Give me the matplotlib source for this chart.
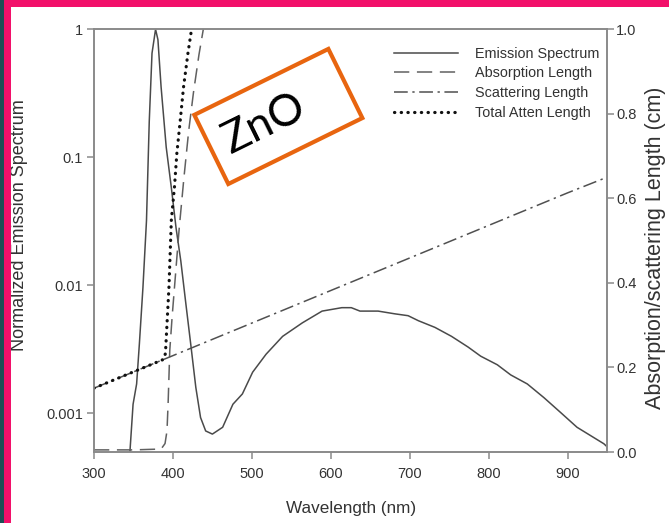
#!/usr/bin/env python3

import numpy as np
import matplotlib
matplotlib.use('Agg')
import matplotlib.pyplot as plt
from matplotlib import ticker
from matplotlib.patches import Rectangle

plt.rcParams['font.family'] = ['Liberation Sans', 'DejaVu Sans']

# emission spectrum, normalised to the peak (left axis, log)
em_nm = [345.5, 349.5, 354, 357.5, 362, 366.5, 370, 373.5, 378, 381, 385,
         391.5, 398, 404, 410, 416.5, 423, 429, 435, 441.5, 450, 463, 476,
         488, 501, 518, 539, 564, 589, 614, 626, 637, 660, 681, 698, 711,
         732, 753, 774, 790, 811, 828, 849, 870, 891, 912, 946, 950]
em_val = [0.0005, 0.00118, 0.0017, 0.0035, 0.0096, 0.032, 0.19, 0.65, 1.0,
          0.83, 0.355, 0.12, 0.058, 0.028, 0.0155, 0.0071, 0.0033, 0.0016,
          0.00093, 0.00073, 0.00069, 0.00078, 0.00118, 0.00142, 0.0021,
          0.0029, 0.0040, 0.0051, 0.0063, 0.0067, 0.0067, 0.0063, 0.0063,
          0.0060, 0.0058, 0.0053, 0.0047, 0.0040, 0.0033, 0.0028, 0.0024,
          0.0020, 0.0017, 0.00133, 0.00102, 0.00078, 0.00058, 0.00055]

# absorption length in cm (right axis)
abs_nm = [300, 350, 385, 390, 392.5, 394, 396, 399, 402, 408, 414, 420,
          426, 433, 438.5]
abs_val = [0.005, 0.005, 0.007, 0.02, 0.05, 0.12, 0.24, 0.32, 0.39, 0.53,
           0.65, 0.76, 0.85, 0.94, 1.0]

# scattering length in cm
sc_nm = [300, 400, 500, 600, 700, 800, 900, 950]
sc_val = [0.151, 0.228, 0.305, 0.382, 0.459, 0.536, 0.613, 0.650]

# total attenuation length in cm
tot_nm = [300, 340, 370, 388, 390.5, 395, 398, 402, 405, 409.3, 413.5,
          419, 423.6]
tot_val = [0.151, 0.182, 0.205, 0.219, 0.233, 0.391, 0.549, 0.628, 0.707,
           0.785, 0.864, 0.943, 1.0]

x_ticks = [300, 400, 500, 600, 700, 800, 900]
left_ticks = [0.001, 0.01, 0.1, 1]
left_labels = ['0.001', '0.01', '0.1', '1']
right_ticks = [0.0, 0.2, 0.4, 0.6, 0.8, 1.0]

W, H = 669, 523
fig = plt.figure(figsize=(W / 100.0, H / 100.0), dpi=100)
fig.patch.set_facecolor('white')

axl = fig.add_axes([94.0 / W, 1 - 452.0 / H, 513.0 / W, 422.7 / H])
axr = axl.twinx()

spine_c = '#8a8a8a'
text_c = '#333333'
tick_fs = 10.5

axl.plot(em_nm, em_val, color='#4a4a4a', lw=1.1, label='Emission Spectrum')
l2, = axr.plot(abs_nm, abs_val, color='#606060', lw=1.1,
               linestyle=(0, (10, 5)), label='Absorption Length')
l3, = axr.plot(sc_nm, sc_val, color='#505050', lw=1.1,
               linestyle=(0, (9, 3, 1.5, 3)), label='Scattering Length')
l4, = axr.plot(tot_nm, tot_val, color='#111111', lw=2.3,
               linestyle=(0, (0.1, 2.0)), dash_capstyle='round',
               label='Total Atten Length')

axl.set_yscale('log')
axl.set_ylim(0.0005, 1)
axl.set_xlim(300, 950)
axr.set_ylim(0, 1.0)

axl.set_xticks(x_ticks)
axl.set_yticks(left_ticks)
axl.yaxis.set_major_formatter(ticker.FixedFormatter(left_labels))
axl.yaxis.set_minor_locator(ticker.NullLocator())
axr.set_yticks(right_ticks)
axr.yaxis.set_major_formatter(ticker.FormatStrFormatter('%.1f'))

for a in (axl, axr):
    for s in a.spines.values():
        s.set_color(spine_c)
        s.set_linewidth(1.2)
    a.tick_params(direction='out', length=5, width=1.1, color=spine_c,
                  labelcolor=text_c, labelsize=tick_fs)
axl.tick_params(axis='x', pad=6)
axl.tick_params(axis='y', pad=3)
axr.tick_params(axis='y', pad=1.5)

fig.text(20.0 / W, 1 - 225.0 / H, 'Normalized Emission Spectrum',
         rotation=90, ha='center', va='center', fontsize=13, color=text_c)
fig.text(655.5 / W, 1 - 247.5 / H, 'Absorption/scattering Length (cm)',
         rotation=90, ha='center', va='center', fontsize=15.5, color=text_c)
fig.text(351.0 / W, 1 - 509.0 / H, 'Wavelength (nm)',
         ha='center', va='center', fontsize=12.3, color=text_c)

handles = [axl.get_lines()[0], l2, l3, l4]
leg = axr.legend(handles, [h.get_label() for h in handles],
                 loc='upper left', bbox_to_anchor=(0.585, 0.959),
                 frameon=False, fontsize=10.4, handlelength=4.4,
                 handletextpad=1.2, labelspacing=0.4, borderpad=0,
                 borderaxespad=0)
for t in leg.get_texts():
    t.set_color(text_c)

# ZnO tag
tag = Rectangle((2.283, 3.39), 1.494, 0.77, angle=26.2,
                transform=fig.dpi_scale_trans, facecolor='white',
                edgecolor='#e8650f', lw=3.0, zorder=10)
fig.patches.append(tag)
fig.text(2.64, (H - 124.0) / 100.0, 'ZnO', transform=fig.dpi_scale_trans,
         rotation=26.2, rotation_mode='anchor', ha='center', va='center',
         fontsize=32, family=['Lato', 'DejaVu Sans'], color='black',
         zorder=11)

# slide frame
pink = '#f2106a'
fig.patches.append(Rectangle((0, 0), 4, H, transform=None,
                             facecolor='#1d4f55', edgecolor='none', zorder=20))
fig.patches.append(Rectangle((4, 0), 7, H, transform=None,
                             facecolor=pink, edgecolor='none', zorder=20))
fig.patches.append(Rectangle((4, H - 6.5), W, 6.5, transform=None,
                             facecolor=pink, edgecolor='none', zorder=20))

fig.savefig('out.png', dpi=100)
